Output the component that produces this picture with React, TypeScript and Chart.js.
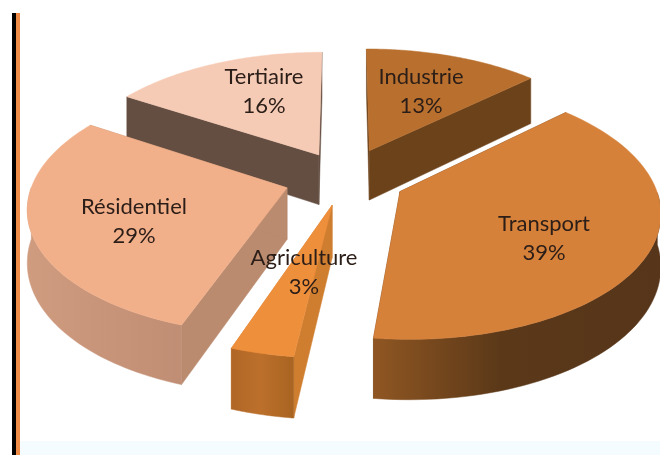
import React, { useEffect, useRef } from "react";
import { Chart, registerables } from "chart.js";

Chart.register(...registerables);

const categories = ["Industrie", "Transport", "Agriculture", "Résidentiel", "Tertiaire"];
const shares = [13, 38.9, 3.4, 28.7, 16];
const explosions = [25, 24, 22, 24, 22];
const topColors = ["#B9702F", "#D6813A", "#EE8F3C", "#F2B08A", "#F6CBB5"];
const edgeColors = ["#6C421A", "#6C421A", "#CF7E30", "#BA8B6F", "#644E42"];
const rimStart = ["#6C421A", "#57351A", "#A96421", "#C08E74", "#644E42"];
const rimMiddle = ["#6C421A", "#5A3818", "#BC702C", "#C9957A", "#644E42"];
const rimEnd = ["#6C421A", "#8F5622", "#B06626", "#D09C80", "#644E42"];

const labelAnchors: Record<string, [number, number]> = {
  Industrie: [421, 77],
  Transport: [544, 224],
  Agriculture: [304, 258],
  "Résidentiel": [134, 207],
  Tertiaire: [264, 77],
};

// Perspective camera used to lay the pie on its side.
const view = { x0: 345, y0: 178, sx: 253, sy: 123, k: 0.14, depth: 51 };

function project(u: number, v: number, z: number): [number, number] {
  const s = 1 / (1 - view.k * v);
  return [view.x0 + view.sx * u * s, view.y0 + view.sy * v * s + z * view.depth * s];
}

function poly(ctx: CanvasRenderingContext2D, pts: [number, number][], fill: string | CanvasGradient) {
  ctx.beginPath();
  pts.forEach((p, i) => (i ? ctx.lineTo(p[0], p[1]) : ctx.moveTo(p[0], p[1])));
  ctx.closePath();
  ctx.fillStyle = fill;
  ctx.fill();
  ctx.strokeStyle = fill;
  ctx.lineWidth = 0.5;
  ctx.stroke();
}

const pie3d = {
  id: "pie3d",
  beforeDatasetDraw(chart: any) {
    const ctx: CanvasRenderingContext2D = chart.ctx;
    const arcs = chart.getDatasetMeta(0).data;
    const slices = arcs.map((el: any, i: number) => {
      const start = el.startAngle;
      const end = el.endAngle;
      const mid = (start + end) / 2;
      const d = el.options.offset / 100;
      return { i, start, end, mid, ou: Math.cos(mid) * d, ov: Math.sin(mid) * d };
    });
    slices.sort((a: any, b: any) => Math.sin(a.mid) - Math.sin(b.mid));

    for (const s of slices) {
      const samples: [number, number, number][] = [];
      const n = 80;
      for (let j = 0; j <= n; j++) {
        const a = s.start + ((s.end - s.start) * j) / n;
        samples.push([s.ou + Math.cos(a), s.ov + Math.sin(a), Math.sin(a)]);
      }
      const apexTop = project(s.ou, s.ov, 0);
      const apexBottom = project(s.ou, s.ov, 1);
      const first = samples[0];
      const last = samples[n];
      const edge = edgeColors[s.i];
      poly(ctx, [apexTop, project(first[0], first[1], 0), project(first[0], first[1], 1), apexBottom], edge);
      poly(ctx, [apexTop, project(last[0], last[1], 0), project(last[0], last[1], 1), apexBottom], edge);

      const front = samples.filter((p) => p[2] >= -0.02);
      if (front.length > 1) {
        const top = front.map((p) => project(p[0], p[1], 0));
        const bottom = front.map((p) => project(p[0], p[1], 1)).reverse();
        const xs = top.map((p) => p[0]);
        const g = ctx.createLinearGradient(Math.max(...xs), 0, Math.min(...xs), 0);
        g.addColorStop(0, rimStart[s.i]);
        g.addColorStop(0.55, rimMiddle[s.i]);
        g.addColorStop(1, rimEnd[s.i]);
        poly(ctx, top.concat(bottom), g);
      }

      const face = [apexTop, ...samples.map((p) => project(p[0], p[1], 0))];
      poly(ctx, face, topColors[s.i]);
    }
    return false;
  },
  afterDatasetsDraw(chart: any) {
    const ctx: CanvasRenderingContext2D = chart.ctx;
    const labels: string[] = chart.data.labels;
    const values: number[] = chart.data.datasets[0].data;
    ctx.save();
    ctx.font = '22px Lato, "Open Sans", sans-serif';
    ctx.fillStyle = "#2B1D17";
    ctx.textAlign = "center";
    ctx.textBaseline = "middle";
    labels.forEach((name, i) => {
      const [x, y] = labelAnchors[name];
      ctx.fillText(name, x, y);
      ctx.fillText(Math.round(values[i]) + "%", x, y + 29);
    });
    ctx.restore();
  },
};

export default function App() {
  const ref = useRef<HTMLCanvasElement>(null);
  useEffect(() => {
    const chart = new Chart(ref.current!, {
      type: "pie",
      data: {
        labels: categories,
        datasets: [
          {
            data: shares,
            backgroundColor: topColors,
            offset: explosions,
            borderWidth: 0,
          },
        ],
      },
      options: {
        animation: false,
        responsive: false,
        plugins: { legend: { display: false }, tooltip: { enabled: false } },
      },
      plugins: [pie3d],
    } as any);
    return () => chart.destroy();
  }, []);
  return (
    <div style={{ position: "fixed", left: 0, top: 0, width: 660, height: 455, background: "#fff", overflow: "hidden" }}>
      <div style={{ position: "absolute", left: 20, right: 0, top: 441, bottom: 0, background: "#F4FCFF" }} />
      <canvas ref={ref} width={660} height={455} style={{ position: "absolute", left: 0, top: 0, display: "block" }} />
      <div style={{ position: "absolute", left: 12, width: 4, top: 13, bottom: 0, background: "#000" }} />
      <div style={{ position: "absolute", left: 16, width: 4, top: 13, bottom: 0, background: "#EE8C48" }} />
    </div>
  );
}
